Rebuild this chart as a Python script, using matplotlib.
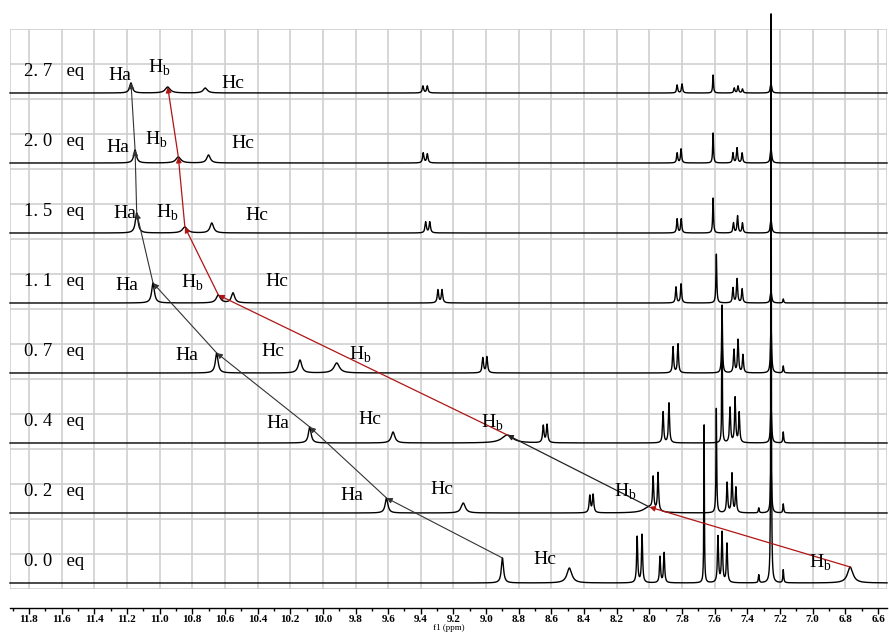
import numpy as np
import matplotlib
matplotlib.use("Agg")
import matplotlib.pyplot as plt
from matplotlib.ticker import MultipleLocator

plt.rcParams["font.family"] = ["Liberation Serif", "DejaVu Serif"]
plt.rcParams["mathtext.fontset"] = "custom"
plt.rcParams["mathtext.rm"] = "Liberation Serif"

# ---------------------------------------------------------------------------
# Data: peak position (ppm), height (px above baseline), half width (ppm)
# spectra listed bottom -> top
# ---------------------------------------------------------------------------
eq_labels = ["0. 0   eq", "0. 2   eq", "0. 4   eq", "0. 7   eq",
             "1. 1   eq", "1. 5   eq", "2. 0   eq", "2. 7   eq"]

ppm_00 = [8.90, 8.49, 8.075, 8.045, 7.935, 7.91, 7.665, 7.58, 7.555, 7.525, 7.33, 7.255, 7.18, 6.77]
h_00   = [25, 15, 46, 48, 26, 30, 158, 46, 50, 39, 8, 570, 13, 16]
w_00   = [0.008, 0.018, 0.004, 0.004, 0.004, 0.004, 0.002, 0.004, 0.004, 0.004, 0.003, 0.0018, 0.003, 0.02]

ppm_02 = [9.61, 9.14, 8.365, 8.345, 8.00, 7.977, 7.947, 7.59, 7.524, 7.494, 7.47, 7.33, 7.255, 7.18]
h_02   = [15, 10, 17, 18, 6, 32, 38, 105, 30, 39, 25, 5, 50, 9]
w_02   = [0.01, 0.015, 0.005, 0.005, 0.04, 0.004, 0.004, 0.0025, 0.004, 0.004, 0.004, 0.003, 0.004, 0.003]

ppm_04 = [10.08, 9.57, 8.87, 8.65, 8.627, 7.916, 7.88, 7.555, 7.506, 7.475, 7.45, 7.255, 7.18]
h_04   = [16, 11, 8, 17, 18, 31, 40, 138, 35, 45, 30, 40, 11]
w_04   = [0.01, 0.013, 0.04, 0.005, 0.005, 0.004, 0.004, 0.002, 0.004, 0.004, 0.004, 0.004, 0.003]

ppm_07 = [10.65, 10.14, 9.915, 9.02, 8.995, 7.855, 7.825, 7.555, 7.482, 7.457, 7.427, 7.255, 7.18]
h_07   = [20, 13, 10, 15, 16, 26, 29, 68, 23, 33, 18, 48, 7]
w_07   = [0.01, 0.013, 0.02, 0.005, 0.005, 0.004, 0.004, 0.003, 0.004, 0.004, 0.004, 0.004, 0.003]

ppm_11 = [11.04, 10.64, 10.55, 9.295, 9.27, 7.837, 7.806, 7.59, 7.488, 7.463, 7.432, 7.255, 7.18]
h_11   = [20, 8, 10, 13, 13, 16, 19, 49, 15, 24, 14, 12, 4]
w_11   = [0.01, 0.015, 0.012, 0.005, 0.005, 0.004, 0.004, 0.003, 0.004, 0.004, 0.004, 0.005, 0.003]

ppm_15 = [11.14, 10.845, 10.68, 9.37, 9.345, 7.83, 7.805, 7.61, 7.485, 7.46, 7.43, 7.255]
h_15   = [20, 6, 10, 11, 11, 14, 14, 35, 10, 17, 10, 14]
w_15   = [0.01, 0.018, 0.013, 0.005, 0.005, 0.004, 0.004, 0.003, 0.004, 0.004, 0.004, 0.005]

ppm_20 = [11.15, 10.885, 10.70, 9.385, 9.36, 7.83, 7.806, 7.61, 7.488, 7.463, 7.432, 7.255]
h_20   = [13, 6, 8, 10, 9, 10, 14, 30, 10, 15, 10, 15]
w_20   = [0.01, 0.018, 0.013, 0.005, 0.005, 0.004, 0.004, 0.003, 0.004, 0.004, 0.004, 0.005]

ppm_27 = [11.175, 10.95, 10.72, 9.387, 9.36, 7.83, 7.80, 7.61, 7.48, 7.457, 7.43, 7.255]
h_27   = [10, 6, 5, 7, 7, 8, 9, 18, 5, 7, 4, 10]
w_27   = [0.01, 0.018, 0.015, 0.005, 0.005, 0.004, 0.004, 0.003, 0.004, 0.004, 0.004, 0.005]

spectra = [(ppm_00, h_00, w_00), (ppm_02, h_02, w_02), (ppm_04, h_04, w_04),
           (ppm_07, h_07, w_07), (ppm_11, h_11, w_11), (ppm_15, h_15, w_15),
           (ppm_20, h_20, w_20), (ppm_27, h_27, w_27)]

# tracked protons: index of the peak in each spectrum
ha_idx = [0, 0, 0, 0, 0, 0, 0, 0]
hb_idx = [13, 4, 2, 2, 1, 1, 1, 1]

# label positions (ppm, height above baseline); None = not labelled
ha_lab = [None, (9.82, 18), (10.275, 20), (10.83, 18), (11.20, 18), (11.21, 20), (11.255, 15), (11.243, 18)]
hb_lab = [(6.955, 20), (8.15, 21), (8.964, 20), (9.772, 18), (10.80, 20), (10.95, 20), (11.02, 23), (11.0, 25)]
hc_lab = [(8.639, 23), (9.27, 23), (9.711, 23), (10.305, 21), (10.28, 21), (10.403, 18), (10.489, 20), (10.55, 10)]

# arrows between spectra (from, to[, colour])
hb_arrows = [(0, 1, "#b01515"), (1, 2, "#222222"), (2, 4, "#b01515"),
             (4, 5, "#b01515"), (5, 6, "#b01515"), (6, 7, "#b01515")]
ha_arrows = [(0, 1), (1, 2), (2, 3), (3, 4), (4, 5), (5, 6), (6, 7)]

# ---------------------------------------------------------------------------
W, H = 889, 636
fig = plt.figure(figsize=(W / 100, H / 100), dpi=100)
ax = fig.add_axes([10 / W, (H - 589) / H, 877 / W, 560 / H])

XL, XR = 11.916, 6.545
ax.set_xlim(XL, XR)
ax.set_ylim(0, 560)

# paper grid
for gx in np.arange(11.8, 6.5, -0.2):
    ax.axvline(gx, color="#cfcfcf", lw=1.2, zorder=0)
for gy in np.arange(0, 561, 35):
    ax.axhline(gy, color="#cfcfcf", lw=1.2, zorder=0)
ax.axvline(XL, color="#cfcfcf", lw=1.2, zorder=0)
ax.axvline(XR, color="#cfcfcf", lw=1.2, zorder=0)

x = np.linspace(XR, XL, 12000)
base = [6 + 70 * i for i in range(len(spectra))]


def spectrum(ppm, hh, ww):
    y = np.zeros_like(x)
    for p, h, w in zip(ppm, hh, ww):
        y += h * w ** 2 / ((x - p) ** 2 + w ** 2)
    return y


for i, (ppm, hh, ww) in enumerate(spectra):
    ax.plot(x, base[i] + spectrum(ppm, hh, ww), color="black", lw=1.0,
            clip_on=False, zorder=2)
    ax.text(11.83, base[i] + 21, eq_labels[i], fontsize=13.5, ha="left",
            va="center", zorder=4)


def top(i, idx):
    ppm, hh, ww = spectra[i]
    return ppm[idx], base[i] + hh[idx]


for i, j in ha_arrows:
    ax.annotate("", xy=top(j, ha_idx[j]), xytext=top(i, ha_idx[i]),
                arrowprops=dict(arrowstyle="-|>", color="#333333", lw=0.8,
                                mutation_scale=8, shrinkA=0, shrinkB=0), zorder=3)
for i, j, c in hb_arrows:
    ax.annotate("", xy=top(j, hb_idx[j]), xytext=top(i, hb_idx[i]),
                arrowprops=dict(arrowstyle="-|>", color=c, lw=0.9,
                                mutation_scale=8, shrinkA=0, shrinkB=0), zorder=3)

for i in range(len(spectra)):
    if ha_lab[i]:
        ax.text(ha_lab[i][0], base[i] + ha_lab[i][1], "Ha", fontsize=14,
                ha="center", va="center", zorder=4)
    ax.text(hb_lab[i][0], base[i] + hb_lab[i][1], r"H$_\mathrm{b}$", fontsize=14,
            ha="center", va="center", zorder=4)
    ax.text(hc_lab[i][0], base[i] + hc_lab[i][1], "Hc", fontsize=14,
            ha="center", va="center", zorder=4)

# axis
for s in ["left", "right", "top"]:
    ax.spines[s].set_visible(False)
ax.spines["bottom"].set_position(("outward", 13.5))
ax.spines["bottom"].set_linewidth(1.0)
ax.set_yticks([])
ax.xaxis.set_minor_locator(MultipleLocator(0.1))
ax.tick_params(axis="x", which="major", length=4, width=1, labelsize=8, pad=1)
ax.tick_params(axis="x", which="minor", length=2.5, width=1)
ax.set_xticks(np.round(np.arange(11.8, 6.55, -0.2), 1))
ax.set_xticklabels([f"{v:.1f}" for v in np.arange(11.8, 6.55, -0.2)],
                   fontweight="bold")
ax.set_xlabel("f1 (ppm)", fontsize=6.5, labelpad=0.5)

fig.savefig("out.png", dpi=100)
